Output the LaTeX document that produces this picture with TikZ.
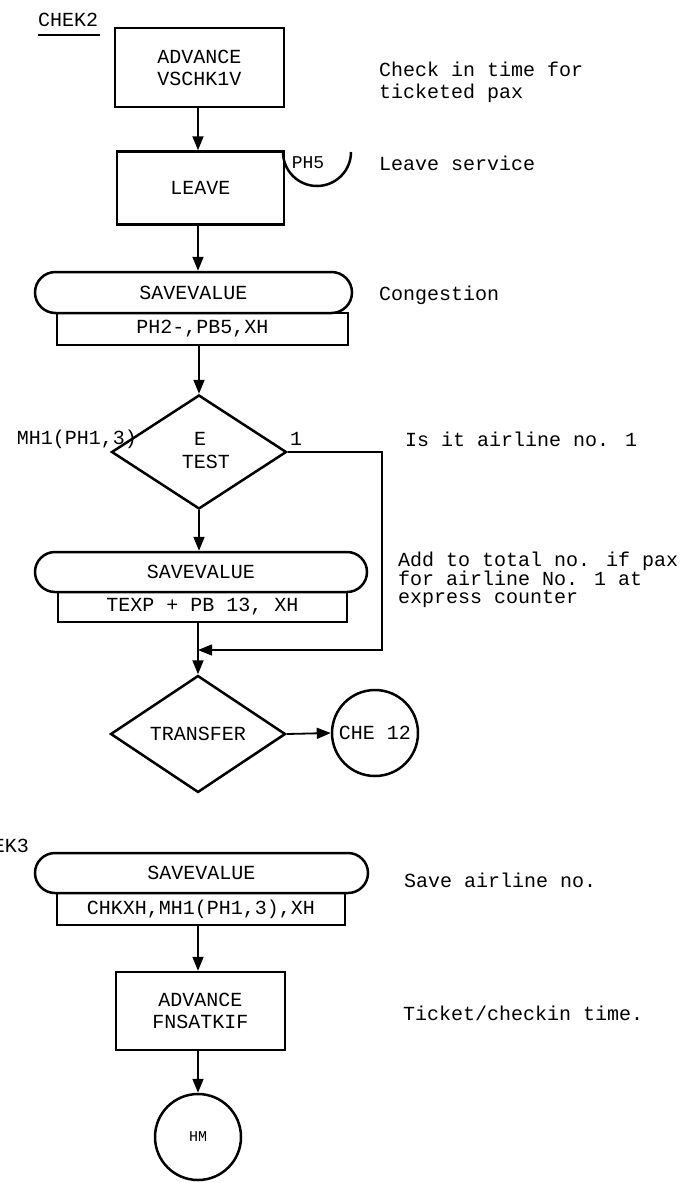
\documentclass[tikz,border=0pt]{standalone}
\usepackage{fontspec}
\setmainfont{Liberation Mono}
\usetikzlibrary{arrows.meta,shapes.geometric,shapes.misc}
\begin{document}
\begin{tikzpicture}[x=1pt,y=-1pt,
  every node/.style={font=\fontsize{20}{22}\selectfont, inner sep=0pt},
  box/.style={draw, line width=2.5pt, rectangle, align=center},
  stad/.style={draw, line width=2.5pt, rounded rectangle},
  dia/.style={draw, line width=2.5pt, diamond},
  term/.style={draw, line width=2.5pt, circle},
  tip/.style={-{Triangle[length=14pt,width=11pt]}},
  arr/.style={line width=1.8pt, tip},
  thin/.style={line width=1.3pt},
  note/.style={anchor=west, align=left}]
\useasboundingbox (0,0) rectangle (694,1183);

% label CHEK2
\node[anchor=west] (lab2) at (38,20) {CHEK2};
\draw[line width=1.3pt] (lab2.south west) ++(0,8) -- ++(62,0);

% box 1
\node[box, minimum width=169pt, minimum height=79pt] (b1) at (199.5,67.5) {ADVANCE\\VSCHK1V};
% box 2
\node[box, minimum width=167pt, minimum height=73pt] (b2) at (200.5,188) {\raisebox{-8pt}{LEAVE}};
\draw[line width=2.5pt] (283,152) arc (180:0:34);
\node (ph5) at (308,163) {\fontsize{18}{18}\selectfont PH5};

% savevalue 1
\node[stad, minimum width=317pt, minimum height=41pt] (s1) at (193.5,292.5) {SAVEVALUE};
\node[box, minimum width=291pt, minimum height=32pt] (r1) at (202.5,329) {PH2-,PB5,XH};

% test diamond
\node[dia, minimum width=175pt, minimum height=114pt] (d1) at (199,452) {};
\node (e) at (200,439) {E};
\node (test) at (206,462) {TEST};
\node (mh) at (77,439) {MH1(PH1,3)};
\node (one) at (296,439) {1};

% savevalue 2
\node[stad, minimum width=332pt, minimum height=40pt] (s2) at (201,572) {SAVEVALUE};
\node[box, minimum width=289pt, minimum height=30pt] (r2) at (202.5,607) {TEXP + PB 13, XH};

% transfer
\node[dia, minimum width=175pt, minimum height=117pt] (d2) at (198,734) {TRANSFER};
\node[term, minimum size=86pt] (c1) at (375,733) {CHE 12};

% CHEK3 part
\node[anchor=east] (lab3) at (29,846) {CHEK3};
\node[stad, minimum width=333pt, minimum height=40pt] (s3) at (201.5,873) {SAVEVALUE};
\node[box, minimum width=288pt, minimum height=32pt] (r3) at (201,909) {CHKXH,MH1(PH1,3),XH};
\node[box, minimum width=169pt, minimum height=78pt] (b4) at (200.5,1011) {ADVANCE\\FNSATKIF};
\node[term, minimum size=86pt] (c2) at (198,1137) {\fontsize{15}{15}\selectfont HM};

% connectors
\draw[arr] (b1.south -| 198,0) -- (b2.north -| 198,0);
\draw[arr] (b2.south -| 198,0) -- (s1.north -| 198,0);
\draw[arr] (r1.south -| d1.north) -- (d1.north);
\draw[arr] (d1.south) -- (s2.north -| d1.south);
\draw[arr] (r2.south -| d2.north) -- (d2.north);
\coordinate (lc) at (382,650);
\coordinate (jn) at (198,650);
\draw[thin, tip] (d1.east) -| (lc) -- (jn);
\draw[arr] (d2.east) -- (c1.west);
\draw[arr] (r3.south -| c2.north) -- (b4.north -| c2.north);
\draw[arr] (b4.south -| c2.north) -- (c2.north);

% comments
\node[note] (n1) at (379,82) {Check in time for\\ticketed pax};
\node[note] (n2) at (379,163) {Leave service};
\node[note] (n3) at (379,295) {Congestion};
\node[note] (n4) at (405,439) {Is it airline no. 1};
\node[note, font=\fontsize{20}{18}\selectfont] (n5) at (398,580) {Add to total no. if pax\\for airline No. 1 at\\express counter};
\node[note] (n6) at (404,880) {Save airline no.};
\node[note] (n7) at (403,1013) {Ticket/checkin time.};
\end{tikzpicture}
\end{document}
